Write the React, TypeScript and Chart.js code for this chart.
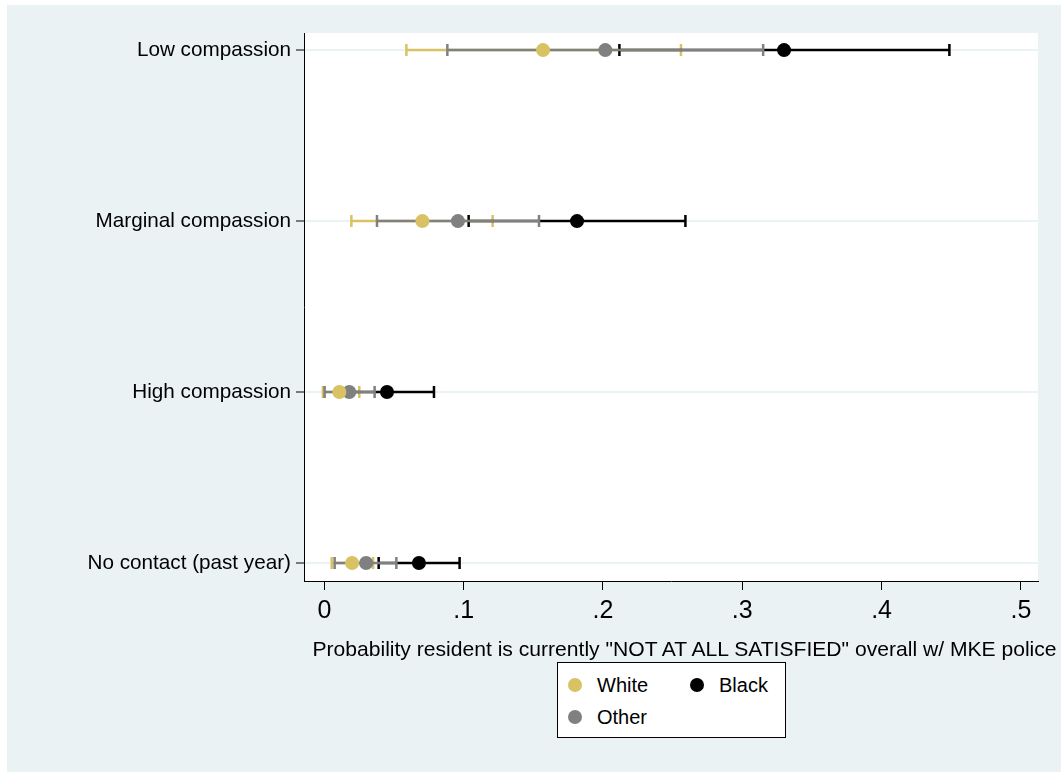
import React, { useEffect, useRef } from "react";
import { Chart, registerables } from "chart.js";

Chart.register(...registerables);

// ---- data ----
const categories = ["No contact (past year)", "High compassion", "Marginal compassion", "Low compassion"];
const catPositions = [1, 2, 3, 4];

const whiteEst = [0.0199, 0.0108, 0.0704, 0.157];
const whiteLo = [0.0053, -0.001, 0.0194, 0.0589];
const whiteHi = [0.035, 0.0251, 0.1208, 0.256];

const blackEst = [0.0679, 0.045, 0.1814, 0.33];
const blackLo = [0.039, 0.012, 0.1036, 0.2118];
const blackHi = [0.0971, 0.0787, 0.2592, 0.4487];

const otherEst = [0.03, 0.0179, 0.0959, 0.2017];
const otherLo = [0.0074, 0.0002, 0.0378, 0.0883];
const otherHi = [0.0517, 0.0361, 0.1541, 0.315];

const xTickValues = [0, 0.1, 0.2, 0.3, 0.4, 0.5];
const xTickLabels = ["0", ".1", ".2", ".3", ".4", ".5"];

const xTitle = 'Probability resident is currently "NOT AT ALL SATISFIED" overall w/ MKE police';

const seriesNames = ["White", "Black", "Other"];
const seriesColors = ["#D9C263", "#000000", "#808080"];

const FONT = "'Liberation Sans', Arial, Helvetica, sans-serif";

const series = [
  { est: whiteEst, lo: whiteLo, hi: whiteHi },
  { est: blackEst, lo: blackLo, hi: blackHi },
  { est: otherEst, lo: otherLo, hi: otherHi },
];

const bgPlugin = {
  id: "bgPlugin",
  beforeDraw(chart: any) {
    const { ctx, chartArea } = chart;
    ctx.save();
    ctx.fillStyle = "#EAF2F3";
    ctx.fillRect(7, 5, chart.width - 7, chart.height - 5);
    ctx.fillStyle = "#FFFFFF";
    ctx.fillRect(chartArea.left, chartArea.top, chartArea.right - chartArea.left, chartArea.bottom - chartArea.top);
    ctx.restore();
  },
};

const errorBarPlugin = {
  id: "errorBarPlugin",
  beforeDatasetsDraw(chart: any) {
    const { ctx } = chart;
    const xs = chart.scales.x;
    const ys = chart.scales.y;
    ctx.save();
    series.forEach((s, si) => {
      ctx.strokeStyle = seriesColors[si];
      ctx.lineWidth = 2.5;
      catPositions.forEach((pos, i) => {
        const y = ys.getPixelForValue(pos);
        const x1 = xs.getPixelForValue(s.lo[i]);
        const x2 = xs.getPixelForValue(s.hi[i]);
        ctx.beginPath();
        ctx.moveTo(x1, y);
        ctx.lineTo(x2, y);
        ctx.moveTo(x1, y - 6);
        ctx.lineTo(x1, y + 6);
        ctx.moveTo(x2, y - 6);
        ctx.lineTo(x2, y + 6);
        ctx.stroke();
      });
    });
    ctx.restore();
  },
};

export default function App() {
  const ref = useRef<HTMLCanvasElement | null>(null);

  useEffect(() => {
    if (!ref.current) return;
    Chart.defaults.font.family = FONT;
    const chart = new Chart(ref.current, {
      type: "scatter",
      data: {
        datasets: series.map((s, si) => ({
          label: seriesNames[si],
          data: catPositions.map((p, i) => ({ x: s.est[i], y: p })),
          backgroundColor: seriesColors[si],
          borderWidth: 0,
          pointRadius: 7,
          pointHoverRadius: 7,
        })),
      },
      options: {
        responsive: false,
        animation: false,
        events: [],
        layout: { padding: { left: 0, top: 33, right: 23, bottom: 112 } },
        plugins: { legend: { display: false }, tooltip: { enabled: false } },
        scales: {
          x: {
            type: "linear",
            min: -0.0146,
            max: 0.5123,
            afterBuildTicks: (scale: any) => {
              scale.ticks = xTickValues.map((v) => ({ value: v }));
            },
            afterFit: (scale: any) => {
              scale.height = 79;
            },
            ticks: {
              callback: (v: any) => {
                const idx = xTickValues.findIndex((t) => Math.abs(t - Number(v)) < 1e-9);
                return idx >= 0 ? xTickLabels[idx] : "";
              },
              font: { size: 25, family: FONT },
              color: "#000",
              padding: 6,
              maxRotation: 0,
              autoSkip: false,
            },
            grid: {
              drawOnChartArea: false,
              drawTicks: true,
              tickLength: 9,
              tickColor: "#000",
              tickWidth: 1,
              color: "#000",
            },
            border: { display: true, color: "#000", width: 1 },
          },
          y: {
            type: "linear",
            min: 0.895,
            max: 4.1,
            afterBuildTicks: (scale: any) => {
              scale.ticks = catPositions.map((v) => ({ value: v }));
            },
            afterFit: (scale: any) => {
              scale.width = 304;
            },
            ticks: {
              callback: (v: any) => {
                const idx = catPositions.indexOf(Number(v));
                return idx >= 0 ? categories[idx] : "";
              },
              font: { size: 20.7, family: FONT },
              color: "#000",
              padding: 5,
              autoSkip: false,
            },
            grid: {
              color: "#EAF2F3",
              lineWidth: 2,
              drawTicks: true,
              tickLength: 8,
              tickColor: "#000",
              tickWidth: 1,
            },
            border: { display: true, color: "#000", width: 1 },
          },
        },
      },
      plugins: [bgPlugin, errorBarPlugin],
    } as any);
    return () => chart.destroy();
  }, []);

  const marker = (color: string, cx: number, cy: number) => (
    <div
      style={{
        position: "absolute",
        left: cx - 7,
        top: cy - 7,
        width: 14,
        height: 14,
        borderRadius: "50%",
        background: color,
      }}
    />
  );
  const label = (text: string, x: number, cy: number) => (
    <div
      style={{
        position: "absolute",
        left: x,
        top: cy - 12,
        height: 24,
        lineHeight: "24px",
        fontSize: 20,
        fontFamily: FONT,
        color: "#000",
        whiteSpace: "nowrap",
      }}
    >
      {text}
    </div>
  );

  return (
    <div style={{ position: "absolute", left: 0, top: 0, width: 1061, height: 772 }}>
      <canvas ref={ref} width={1061} height={772} style={{ width: 1061, height: 772, display: "block" }} />
      <div
        style={{
          position: "absolute",
          left: 0,
          width: 1369,
          top: 636,
          height: 26,
          lineHeight: "26px",
          textAlign: "center",
          fontSize: 21.1,
          fontFamily: FONT,
          color: "#000",
          whiteSpace: "nowrap",
        }}
      >
        {xTitle}
      </div>
      <div
        style={{
          position: "absolute",
          left: 557,
          top: 662,
          width: 229,
          height: 76,
          boxSizing: "border-box",
          border: "1px solid #000",
          background: "#fff",
        }}
      />
      {marker(seriesColors[0], 575, 685)}
      {label(seriesNames[0], 597, 685)}
      {marker(seriesColors[1], 697, 685)}
      {label(seriesNames[1], 719, 685)}
      {marker(seriesColors[2], 575, 717)}
      {label(seriesNames[2], 597, 717)}
    </div>
  );
}
